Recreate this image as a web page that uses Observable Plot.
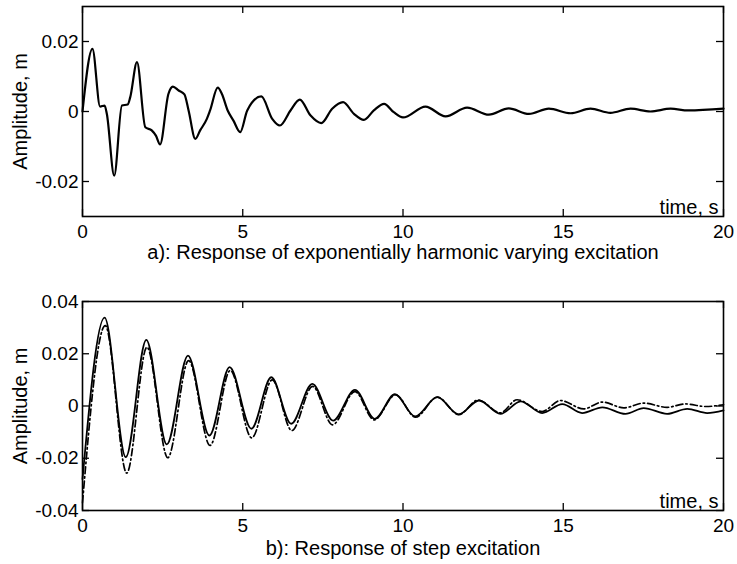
<!DOCTYPE html>
<html>
<head>
<meta charset="utf-8">
<script src="https://cdn.jsdelivr.net/npm/d3@7"></script>
<script src="https://cdn.jsdelivr.net/npm/@observablehq/plot@0.6"></script>
<style>
  body { margin: 0; background: #fff; }
  #wrap { position: relative; width: 737px; height: 564px; background: #fff; font-family: "Liberation Sans", Arial, Helvetica, sans-serif; }
  #pa, #pb { position: absolute; left: 0; }
  #pa { top: 0; }
  #pb { top: 280px; }
</style>
</head>
<body>
<div id="wrap"><div id="pa"></div><div id="pb"></div></div>
<script>
// ---- data ----
const xTicks = [0, 5, 10, 15, 20];
const yTicksA = [-0.02, 0, 0.02];
const yTicksB = [-0.04, -0.02, 0, 0.02, 0.04];
const captionA = "a): Response of exponentially harmonic varying excitation";
const captionB = "b): Response of step excitation";
const yLabel = "Amplitude, m";
const xLabel = "time, s";

// panel a: response to exponentially harmonic varying excitation
const tA = [0, 0.31, 0.55, 0.69, 0.76, 0.99, 1.23, 1.41, 1.49, 1.70, 1.96, 2.16, 2.29, 2.42, 2.68, 2.82, 3.0, 3.18, 3.31, 3.52, 3.67, 3.88, 3.98, 4.22, 4.35, 4.53, 4.71, 4.92, 5.14, 5.58, 5.92, 6.16, 6.49, 6.78, 7.11, 7.45, 7.79, 8.13, 8.47, 8.78, 9.09, 9.41, 9.71, 10.0, 10.70, 11.33, 12.0, 12.68, 13.30, 13.93, 14.55, 15.23, 15.85, 16.47, 17.10, 17.72, 18.35, 18.9, 20];
const vA = [0, 0.0179, 0.0014, 0.0017, -0.0007, -0.0183, 0.0017, 0.002, 0.0041, 0.0141, -0.0045, -0.0054, -0.0069, -0.0094, 0.005, 0.0071, 0.006, 0.0049, 0.0003, -0.0078, -0.0054, -0.0021, 0.0003, 0.0068, 0.005, 0.0003, -0.0026, -0.0059, 0.0003, 0.0043, -0.0021, -0.004, 0.0003, 0.0034, -0.0011, -0.0033, 0.0008, 0.0027, -0.0007, -0.0024, 0.0003, 0.0022, -0.0002, -0.0017, 0.0014, -0.0014, 0.0011, -0.0009, 0.0009, -0.0007, 0.0008, -0.0005, 0.0008, -0.0004, 0.0008, 0, 0.0008, 0.0003, 0.0008];

// panel b: step response, solid curve
const tB1 = [0, 0.69, 1.35, 1.99, 2.63, 3.29, 3.96, 4.59, 5.27, 5.89, 6.51, 7.17, 7.82, 8.50, 9.12, 9.75, 10.38, 11.07, 11.74, 12.37, 13.04, 13.67, 14.34, 14.97, 15.59, 16.22, 16.94, 17.51, 18.24, 18.87, 19.49, 20];
const vB1 = [-0.028, 0.0338, -0.0196, 0.0253, -0.0147, 0.0193, -0.0113, 0.0149, -0.0087, 0.011, -0.0068, 0.0085, -0.0056, 0.0062, -0.0049, 0.0045, -0.004, 0.0034, -0.0032, 0.0021, -0.003, 0.0018, -0.0027, 0.0007, -0.0027, -0.0005, -0.003, -0.0008, -0.003, -0.0011, -0.0027, -0.0017];
// panel b: step response, dash-dot curve
const tB2 = [0, 0.71, 1.38, 2.01, 2.66, 3.31, 3.98, 4.61, 5.28, 5.92, 6.53, 7.18, 7.80, 8.50, 9.10, 9.77, 10.39, 11.07, 11.74, 12.35, 13.04, 13.56, 14.34, 14.91, 15.64, 16.22, 16.89, 17.51, 18.24, 18.81, 19.45, 20];
const vB2 = [-0.037, 0.0308, -0.0257, 0.0225, -0.0198, 0.0174, -0.0151, 0.0136, -0.0122, 0.0100, -0.0094, 0.0075, -0.0072, 0.0055, -0.0053, 0.0043, -0.0043, 0.0034, -0.0033, 0.0023, -0.0026, 0.0024, -0.0021, 0.0021, -0.0011, 0.0015, -0.0007, 0.0011, -0.0005, 0.0008, -0.0002, 0.0005];

// ---- build ----
const rows = (t, v) => t.map((d, i) => ({t: d, v: v[i]}));
const fmtY = d => d === 0 ? "0" : d.toFixed(2);
const FS = 20;
const FT = 19;
const TL = 7;

function panel({height, mt, mb, yDomain, yTicks, series, caption, capDy, labDy}) {
  const W = 737, ml = 82, mr = 14;
  const fw = W - ml - mr, fh = height - mt - mb;
  const marks = [
    Plot.frame({stroke: "#000", strokeWidth: 1.6}),
    // inward ticks on all four sides
    Plot.tickX(xTicks, {x: d => d, insetTop: fh - TL, stroke: "#000", strokeWidth: 1.3}),
    Plot.tickX(xTicks, {x: d => d, insetBottom: fh - TL, stroke: "#000", strokeWidth: 1.3}),
    Plot.tickY(yTicks, {y: d => d, insetRight: fw - TL, stroke: "#000", strokeWidth: 1.3}),
    Plot.tickY(yTicks, {y: d => d, insetLeft: fw - TL, stroke: "#000", strokeWidth: 1.3}),
    Plot.axisX(xTicks, {tickSize: 0, tickPadding: 8, fontSize: FT, tickFormat: d => String(d), label: null, fill: "#000"}),
    Plot.axisY(yTicks, {tickSize: 0, tickPadding: 4, fontSize: FT, tickFormat: fmtY, label: null, fill: "#000"}),
    ...series.map(s => Plot.line(s.data, {x: "t", y: "v", curve: "monotone-x", stroke: "#000", strokeWidth: s.w, strokeDasharray: s.dash || null, strokeLinejoin: "round"})),
    Plot.text([xLabel], {frameAnchor: "bottom-right", textAnchor: "end", lineAnchor: "bottom", dx: -5, dy: labDy, fontSize: FS, fill: "#000"}),
    Plot.text([caption], {frameAnchor: "bottom", textAnchor: "middle", lineAnchor: "bottom", dy: capDy, fontSize: FS, fill: "#000"}),
    Plot.text([yLabel], {frameAnchor: "left", textAnchor: "middle", lineAnchor: "middle", rotate: -90, dx: -62, fontSize: FS, fill: "#000"})
  ];
  return Plot.plot({
    width: W, height,
    marginLeft: ml, marginRight: mr, marginTop: mt, marginBottom: mb,
    style: {fontFamily: '"Liberation Sans", Arial, Helvetica, sans-serif', fontSize: FS + "px", background: "#fff", color: "#000", overflow: "visible"},
    x: {domain: [0, 20]},
    y: {domain: yDomain},
    marks
  });
}

document.getElementById("pa").appendChild(panel({
  height: 280, mt: 6, mb: 64, yDomain: [-0.03, 0.03], yTicks: yTicksA,
  series: [{data: rows(tA, vA), w: 2.2}],
  caption: captionA, capDy: 42, labDy: -3
}));
document.getElementById("pb").appendChild(panel({
  height: 284, mt: 21, mb: 54, yDomain: [-0.04, 0.04], yTicks: yTicksB,
  series: [
    {data: rows(tB2, vB2), w: 1.7, dash: "7,3,1.5,3"},
    {data: rows(tB1, vB1), w: 1.8}
  ],
  caption: captionB, capDy: 44, labDy: -3
}));
</script>
</body>
</html>
